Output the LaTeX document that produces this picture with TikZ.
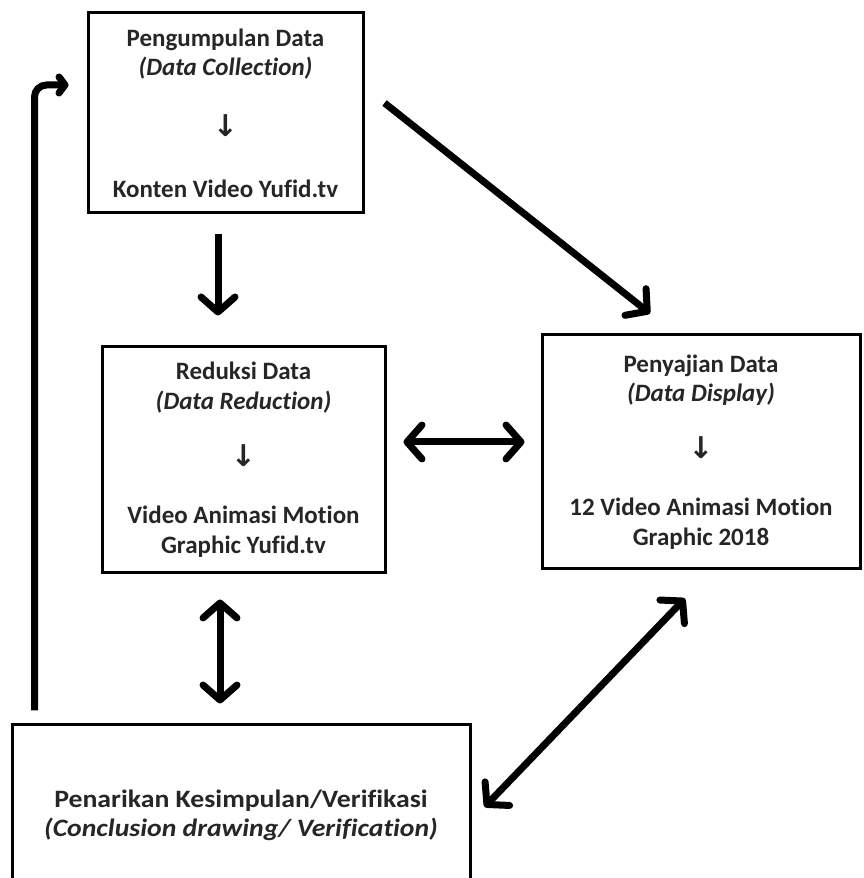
\documentclass[tikz,border=0pt]{standalone}
\usepackage{fontspec}
\setmainfont{Carlito}[Ligatures=CommonOff]
\newfontfamily\lebar{Carlito}[Ligatures=CommonOff, FakeStretch=1.11]
\newfontfamily\panah{DejaVu Sans}
\usetikzlibrary{arrows.meta}
\usetikzlibrary{positioning}
\usetikzlibrary{calc}

\newcommand{\turun}{{\panah\bfseries\fontsize{30}{30}\selectfont ↓}}

\begin{document}
\begin{tikzpicture}[x=1pt, y=1pt,
	box/.style={draw, line width=3pt, align=center, inner sep=0pt, text=black!85,
		font=\fontsize{25}{29}\selectfont\bfseries},
	fat/.style={line width=7pt, -{Straight Barb[length=15pt, width=34pt, round]}},
	fatboth/.style={line width=7pt, {Straight Barb[length=15pt, width=34pt, round]}-{Straight Barb[length=15pt, width=34pt, round]}}
]
	\useasboundingbox (0,0) rectangle (863,878);

	\node[box, minimum width=275pt, minimum height=200pt] (collect) at (225.5, 765) {Pengumpulan Data\\ \textit{(Data Collection)}\\[32pt] \turun\\[32pt] Konten Video Yufid.tv};
	\node[box, minimum width=283pt, minimum height=226pt] (reduce) at (243.5, 418) {Reduksi Data\\[1pt] \textit{(Data Reduction)}\\[28pt] \turun\\[28pt] Video Animasi Motion\\[1pt] Graphic Yufid.tv};
	\node[box, minimum width=318pt, minimum height=234pt] (display) at (701, 426) {Penyajian Data\\ \textit{(Data Display)}\\[28pt] \turun\\[28pt] 12 Video Animasi Motion\\[1pt] Graphic 2018};
	\node[box, minimum width=458pt, minimum height=180pt, font=\lebar\fontsize{25}{29}\selectfont\bfseries] (conclude) at (241, 63) {Penarikan Kesimpulan/Verifikasi\\ \textit{(Conclusion drawing/ Verification)}};

	% alur
	\draw[fat] ([shift={(-7.5,-20)}]collect.south) -- ([shift={(-25.5,30)}]reduce.north);
	\draw[fat] ([shift={(20,10)}]collect.east) -- ([shift={(-51,20)}]display.north);
	\draw[fatboth] ([shift={(17,18)}]reduce.east) -- ([shift={(-16,10)}]display.west);
	\draw[fatboth] ([shift={(-23.5,-25)}]reduce.south) -- ([shift={(-21,20)}]conclude.north);
	\draw[fatboth] ([shift={(-16,-28)}]display.south) -- ([shift={(13,8)}]conclude.east);
	\draw[line width=7pt, rounded corners=12pt, -{Straight Barb[length=6pt, width=16pt, round]}]
		([shift={(24,13)}]conclude.north west) |- ([shift={(-18,28)}]collect.west);
\end{tikzpicture}
\end{document}
